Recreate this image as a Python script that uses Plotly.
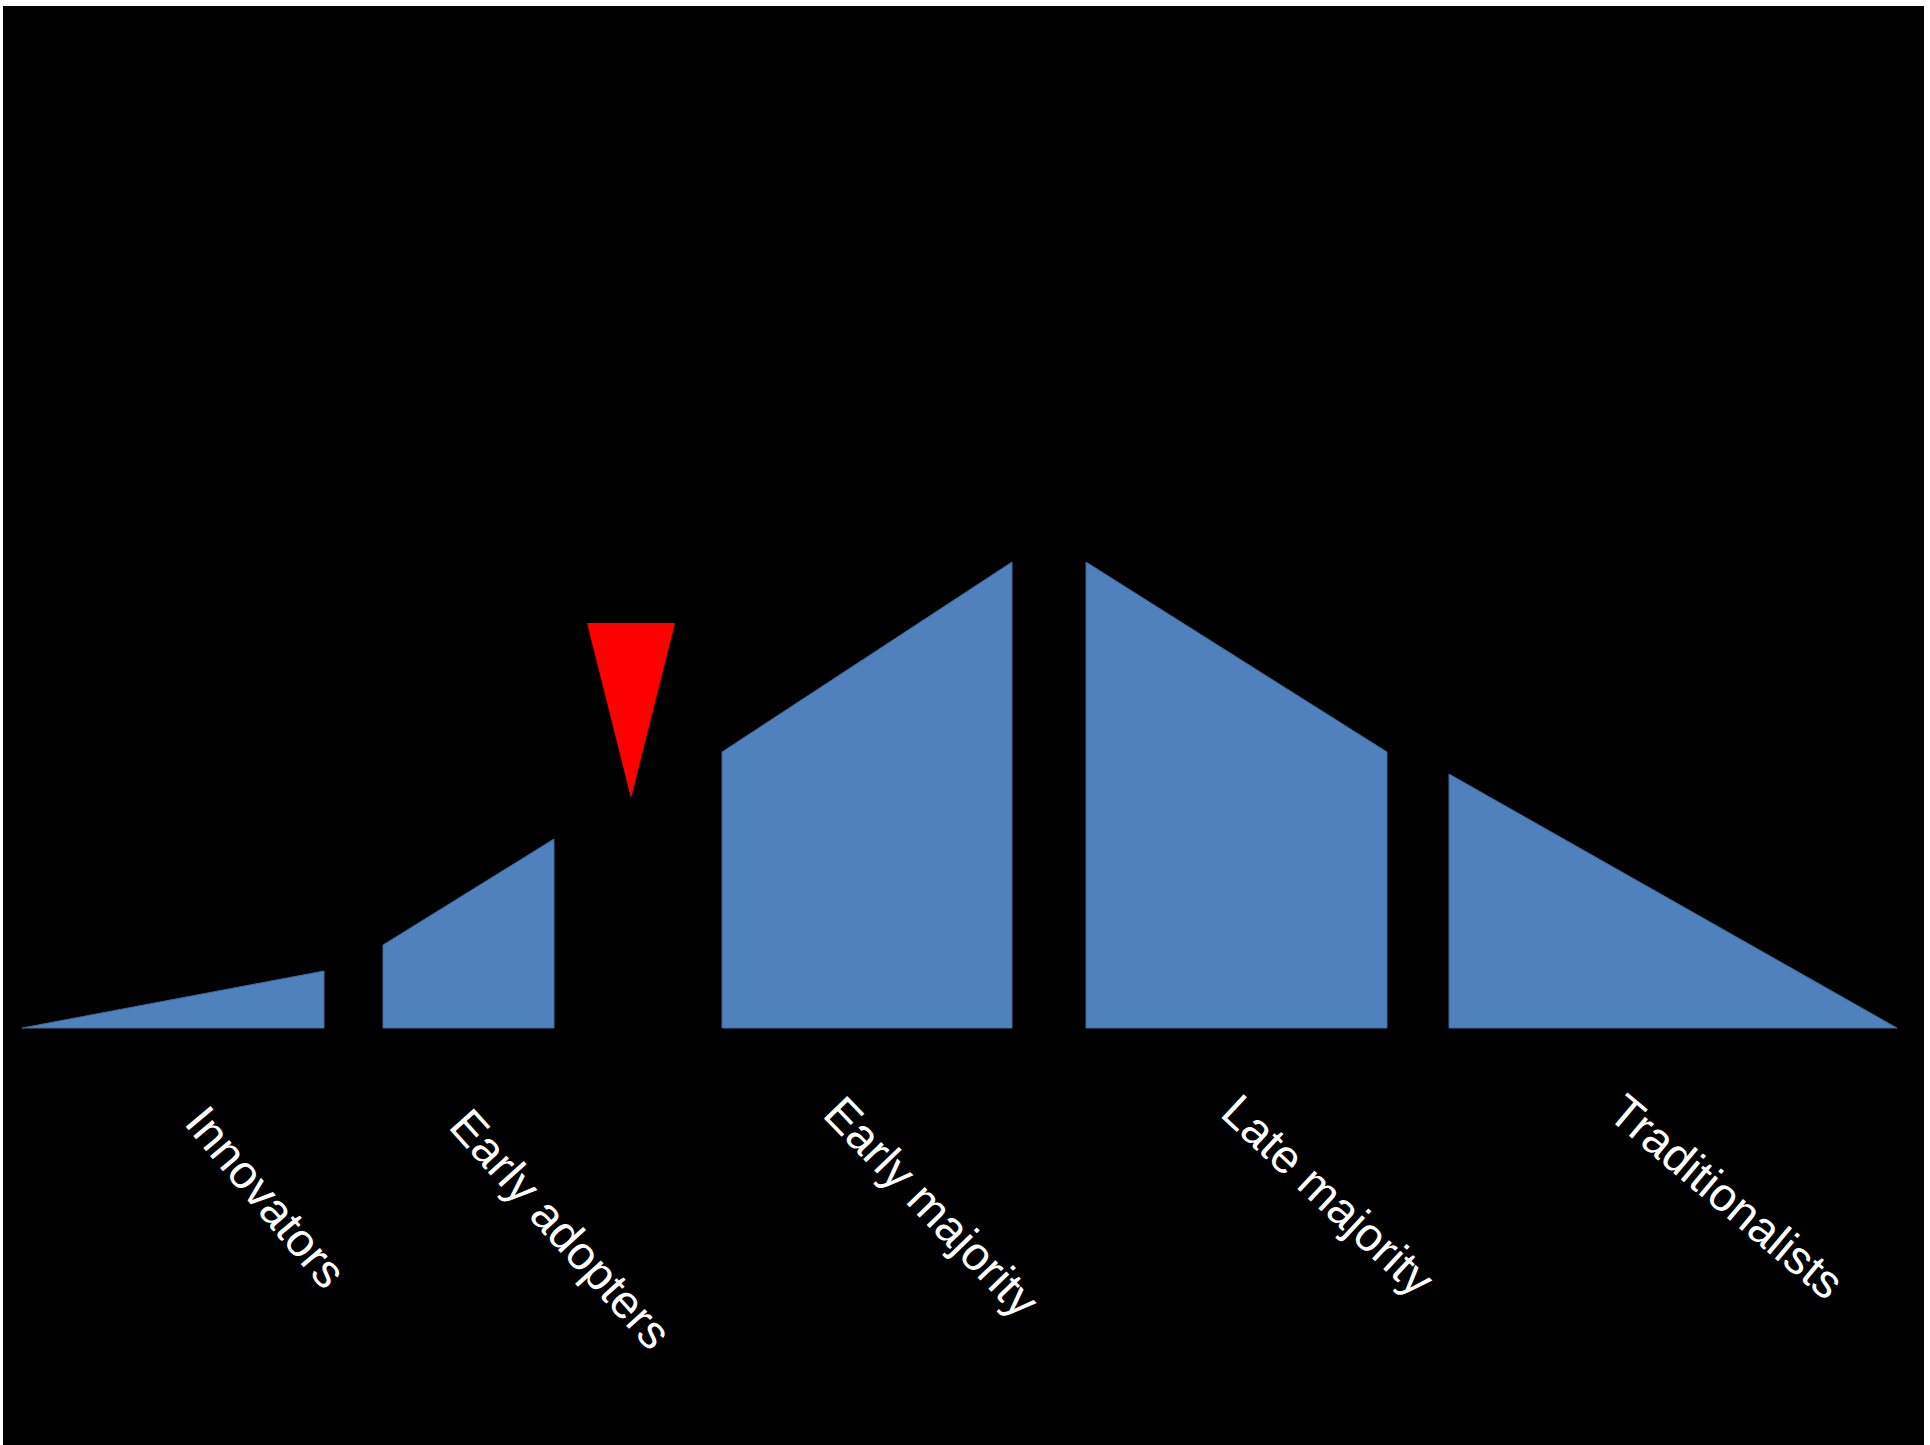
import plotly.graph_objects as go

# ---- data ----
segments = ["Innovators", "Early adopters", "Early majority", "Late majority", "Traditionalists"]
seg_x_start = [1.9, 38.0, 71.9, 108.3, 144.6]
seg_x_end = [32.1, 55.1, 100.9, 138.4, 189.4]
seg_y_start = [0.0, 8.3, 27.6, 46.6, 25.4]
seg_y_end = [5.7, 18.9, 46.6, 27.6, 0.0]

chasm_x_left = 58.4
chasm_x_right = 67.2
chasm_x_tip = 62.8
chasm_y_top = 40.5
chasm_y_tip = 23.0

# ---- layout helpers (label placement) ----
label_x = [26.3, 55.8, 92.9, 132.6, 172.4]
label_y = [-16.8, -20.0, -17.8, -16.7, -16.8]
label_angle = [50, 48, 46, 43, 40]

BLUE = "#4F81BD"
EDGE = "#41699B"

fig = go.Figure()

for name, x0, x1, y0, y1 in zip(segments, seg_x_start, seg_x_end, seg_y_start, seg_y_end):
    fig.add_trace(go.Scatter(
        x=[x0, x0, x1, x1, x0],
        y=[0, y0, y1, 0, 0],
        mode="lines",
        fill="toself",
        fillcolor=BLUE,
        line=dict(color=EDGE, width=1),
        name=name,
        hoverinfo="name",
    ))

fig.add_trace(go.Scatter(
    x=[chasm_x_left, chasm_x_right, chasm_x_tip, chasm_x_left],
    y=[chasm_y_top, chasm_y_top, chasm_y_tip, chasm_y_top],
    mode="lines",
    fill="toself",
    fillcolor="#FF0000",
    line=dict(color="#FF0000", width=0),
    name="Chasm",
    hoverinfo="name",
))

for name, lx, ly, ang in zip(segments, label_x, label_y, label_angle):
    fig.add_annotation(
        x=lx, y=ly, xref="x", yref="y",
        text=name, showarrow=False,
        textangle=ang,
        xanchor="center", yanchor="middle",
        font=dict(family="Liberation Sans, Arial, sans-serif", size=47, color="white"),
    )

fig.update_layout(
    width=1930, height=1445,
    margin=dict(l=3, r=6, t=6, b=0),
    paper_bgcolor="white",
    plot_bgcolor="black",
    showlegend=False,
    xaxis=dict(range=[0, 192.1], visible=False, showgrid=False, zeroline=False),
    yaxis=dict(range=[-41.7, 102.2], visible=False, showgrid=False, zeroline=False),
)

fig.write_html("out.html")
